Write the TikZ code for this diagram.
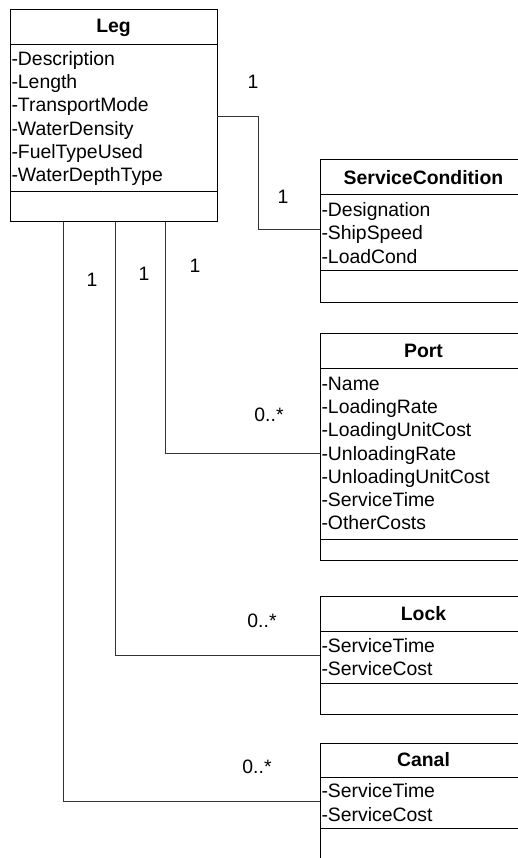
\documentclass[tikz,border=0pt]{standalone}
\usepackage{fontspec}
\setmainfont{Liberation Sans}
\usetikzlibrary{positioning}

\begin{document}
\begin{tikzpicture}[x=1pt,y=-1pt,font=\fontsize{19.4pt}{23.3pt}\selectfont]
        \tikzstyle{classname}=[draw=black,line width=1pt,anchor=north west,outer sep=0pt,minimum width=207pt,minimum height=35pt,inner sep=0pt,font=\fontsize{19.4pt}{23.3pt}\selectfont\bfseries]
        \tikzstyle{attrs}=[draw=black,line width=1pt,outer sep=0pt,text width=204pt,inner xsep=1.5pt,inner ysep=0pt,align=left]
        \tikzstyle{ops}=[draw=black,line width=1pt,outer sep=0pt,minimum width=207pt,inner sep=0pt]
        \tikzstyle{edge}=[draw=black!80,line width=0.8pt]

        \clip (0,0) rectangle (518,858);

        % classes
        \node [classname] (legname) at (10,10) {Leg};
        \node [attrs, below=0pt of legname, minimum height=147pt] (legattr) {-Description\\-Length\\-TransportMode\\-WaterDensity\\-FuelTypeUsed\\-WaterDepthType};
        \node [ops, below=0pt of legattr, minimum height=30pt] (legops) {};

        \node [classname] (scname) at (320,160) {ServiceCondition};
        \node [attrs, below=0pt of scname, minimum height=76pt] (scattr) {-Designation\\-ShipSpeed\\-LoadCond};
        \node [ops, below=0pt of scattr, minimum height=31pt] (scops) {};

        \node [classname] (portname) at (320,333) {Port};
        \node [attrs, below=0pt of portname, minimum height=171pt] (portattr) {-Name\\-LoadingRate\\-LoadingUnitCost\\-UnloadingRate\\-UnloadingUnitCost\\-ServiceTime\\-OtherCosts};
        \node [ops, below=0pt of portattr, minimum height=21pt] (portops) {};

        \node [classname] (lockname) at (320,596) {Lock};
        \node [attrs, below=0pt of lockname, minimum height=52pt] (lockattr) {-ServiceTime\\-ServiceCost};
        \node [ops, below=0pt of lockattr, minimum height=31pt] (lockops) {};

        \node [classname, minimum height=34pt] (canalname) at (320,743) {Canal};
        \node [attrs, below=0pt of canalname, minimum height=51pt] (canalattr) {-ServiceTime\\-ServiceCost};
        \node [ops, below=0pt of canalattr, minimum height=34pt] (canalops) {};

        % associations
        \path[edge] ([yshift=2.5pt]legattr.east) -- ++(41,0) |- ([yshift=4pt]scattr.west);
        \path[edge] ([xshift=52pt]legops.south) |- (portattr.west);
        \path[edge] ([xshift=1.5pt]legops.south) |- ([yshift=2pt]lockattr.west);
        \path[edge] ([xshift=-50.5pt]legops.south) |- ([yshift=1.5pt]canalattr.west);

        % multiplicities
        \node (m1) at (253,82) {1};
        \node (m2) at (283,197) {1};
        \node (m3) at (92,280) {1};
        \node (m4) at (144,274) {1};
        \node (m5) at (195,266) {1};
        \node (m6) at (269,415) {0..*};
        \node (m7) at (262,621) {0..*};
        \node (m8) at (257,767) {0..*};
\end{tikzpicture}
\end{document}
